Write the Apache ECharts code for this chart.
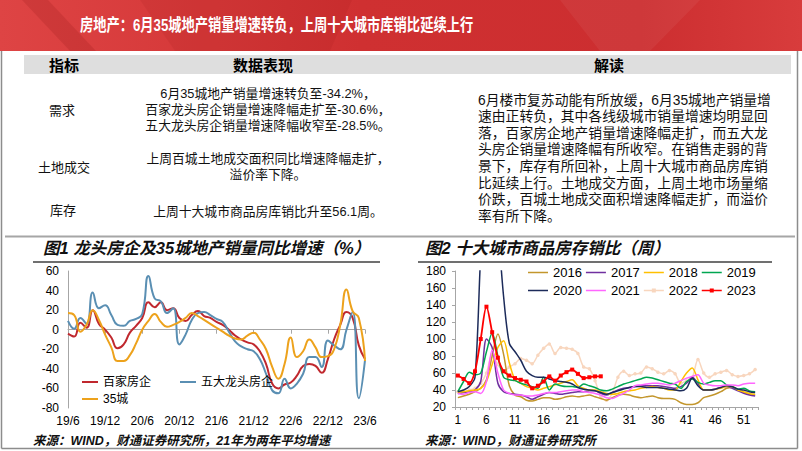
<!DOCTYPE html>
<html><head><meta charset="utf-8">
<script src="https://cdn.jsdelivr.net/npm/echarts@6/dist/echarts.min.js"></script>
<style>html,body{margin:0;padding:0;background:#fff;}#c{width:802px;height:451px;}</style>
</head><body><div id="c"></div>
<script>
// ---------- Chart 1 data (monthly, 19/6 .. 23/6) ----------
const months = ['19/6','19/7','19/8','19/9','19/10','19/11','19/12','20/1','20/2','20/3','20/4','20/5','20/6','20/7','20/8','20/9','20/10','20/11','20/12','21/1','21/2','21/3','21/4','21/5','21/6','21/7','21/8','21/9','21/10','21/11','21/12','22/1','22/2','22/3','22/4','22/5','22/6','22/7','22/8','22/9','22/10','22/11','22/12','23/1','23/2','23/3','23/4','23/5','23/6'];
const baijia = [-4,-7,7,2,20,6,0,-8,-19,-15,-3,4,12,28,23,28,20,22,12,9,15,19,14,12,8,5,0,-6,-10,-13,-15,-22,-35,-55,-60,-56,-54,-47,-37,-35,-37,-44,-30,-10,5,18,12,-16,-30];
const wuda = [9,1,12,6,38,22,25,15,5,4,9,11,16,55,32,29,17,22,-15,-5,10,17,18,15,11,8,-2,-12,-17,-20,-22,-30,-45,-62,-65,-50,-60,-55,-45,-28,-28,-38,-11,-16,-20,0,18,-70,-31];
const city35 = [17,15,-2,5,20,10,-5,-18,-32,-32,-26,-14,0,9,16,8,3,5,8,12,17,14,10,6,2,-2,-6,-9,-10,-6,-3,-10,-20,-38,-50,-35,-8,-28,-22,-10,-18,-28,-27,-20,5,41,19,12,-32];
const y1Ticks = {min:-80, max:60, step:20};

// ---------- Chart 2 data (weekly, 1 .. 53) ----------
const weeks = ['1','2','3','4','5','6','7','8','9','10','11','12','13','14','15','16','17','18','19','20','21','22','23','24','25','26','27','28','29','30','31','32','33','34','35','36','37','38','39','40','41','42','43','44','45','46','47','48','49','50','51','52','53'];
const y2016 = [31,33,35,38,42,52,80,106,82,45,34,32,28,27,29,31,31,29,30,32,33,32,33,34,32,30,28,31,34,35,34,32,31,32,33,31,30,30,29,25,23,23,25,31,33,35,38,42,43,40,37,35,34];
const y2017 = [36,37,38,40,50,100,90,48,38,36,35,34,32,29,32,35,37,36,35,36,37,38,38,39,39,36,34,37,40,42,43,44,45,45,45,45,44,43,42,44,48,55,48,40,40,41,43,44,42,39,36,34,33];
const y2018 = [37,38,39,40,42,50,70,90,98,72,52,48,44,42,40,42,44,46,48,50,52,45,42,40,40,38,36,35,36,38,39,40,42,43,44,43,42,40,40,50,60,66,52,40,40,41,42,44,44,40,38,36,35];
const y2019 = [38,50,61,58,60,85,107,80,55,52,51,48,46,44,42,55,40,47,45,44,44,43,47,45,43,40,39,41,44,47,49,51,53,55,54,52,50,48,47,42,50,53,49,47,49,51,51,46,44,41,42,39,38];
const y2020 = [38,40,44,55,200,300,280,230,150,95,85,75,62,57,55,55,53,51,50,49,47,43,41,40,39,37,35,37,39,41,43,44,44,43,43,43,42,41,40,39,42,54,45,40,40,41,43,45,44,41,40,38,37];
const y2021 = [36,35,37,38,36,50,87,60,40,36,34,34,33,33,34,36,37,37,38,39,40,40,38,37,36,34,31,30,33,36,40,45,46,47,48,48,47,46,48,51,54,56,58,48,46,45,45,46,46,45,47,48,48];
const y2022 = [38,38,40,42,48,60,82,70,62,67,71,77,75,71,81,89,94,83,90,89,88,83,67,65,51,32,28,36,55,62,57,59,60,67,65,61,59,63,59,48,51,55,76,60,55,59,61,63,58,56,57,59,64];
const y2023 = [57,53,48,62,100,138,108,78,62,57,54,52,50,42,45,50,56,51,57,61,64,59,54,55,56,56.1];
const y2Ticks = {min:20, max:180, step:20};

const LAT = '"Liberation Sans",Arial,sans-serif';
const MIX = '"Liberation Sans","Noto Sans CJK SC",sans-serif';

function T(x, y, text, font, align, fill, extra) {
  return Object.assign({type:'text', x:x, y:y, silent:true, z:10,
    style:{text:text, font:font, fill:fill||'#111', align:align||'left', verticalAlign:'middle',
           textAlign:align||'left', textVerticalAlign:'middle'}}, extra||{});
}
function L(x1,y1,x2,y2,color,w){ return {type:'line', silent:true, z:5, shape:{x1:x1,y1:y1,x2:x2,y2:y2}, style:{stroke:color, lineWidth:w}}; }

const bodyFont = '12.8px ' + MIX;
const rightLines = [
 '6月楼市复苏动能有所放缓，6月35城地产销量增',
 '速由正转负，其中各线级城市销量增速均明显回',
 '落，百家房企地产销量增速降幅走扩，而五大龙',
 '头房企销量增速降幅有所收窄。在销售走弱的背',
 '景下，库存有所回补，上周十大城市商品房库销',
 '比延续上行。土地成交方面，上周土地市场量缩',
 '价跌，百城土地成交面积增速降幅走扩，而溢价',
 '率有所下降。'];

const graphics = [
  {type:'rect', silent:true, z:1, shape:{x:0,y:0,width:802,height:51},
   style:{fill:{type:'linear',x:0,y:0,x2:1,y2:0,colorStops:[{offset:0,color:'#DE4444'},{offset:0.45,color:'#CF3031'},{offset:0.8,color:'#CC2E30'},{offset:1,color:'#D83C3C'}]}}},
  {type:'polygon', silent:true, z:2, shape:{points:[[22,0],[48,0],[96,51],[70,51]]}, style:{fill:'rgba(110,0,0,0.13)'}},
  {type:'polygon', silent:true, z:2, shape:{points:[[140,0],[352,0],[330,51],[175,51]]}, style:{fill:'rgba(110,0,0,0.07)'}},
  {type:'polygon', silent:true, z:2, shape:{points:[[560,0],[700,0],[650,51],[600,51]]}, style:{fill:'rgba(255,255,255,0.05)'}},
  T(80, 25, '房地产：6月35城地产销量增速转负，上周十大城市库销比延续上行', 'bold 17px ' + MIX, 'left', '#fff', {scaleX:0.78}),
  // frame
  L(1.5,51,1.5,448.5,'#8C8C8C',1.5), L(797.5,51,797.5,448.5,'#8C8C8C',1.5), L(1.5,448.5,797.5,448.5,'#8C8C8C',1.5),
  // table header
  {type:'rect', silent:true, z:3, shape:{x:24,y:55,width:767,height:19}, style:{fill:'#DEDEDE'}},
  T(64, 65, '指标', 'bold 15px ' + MIX, 'center', '#000'),
  T(263, 65, '数据表现', 'bold 15px ' + MIX, 'center', '#000'),
  T(609, 65, '解读', 'bold 15px ' + MIX, 'center', '#000'),
  T(62, 110, '需求', '13px ' + MIX, 'center'),
  T(64, 167, '土地成交', '13px ' + MIX, 'center'),
  T(63, 210, '库存', '13px ' + MIX, 'center'),
  T(268, 93, '6月35城地产销量增速转负至-34.2%，', bodyFont, 'center'),
  T(268, 109.5, '百家龙头房企销量增速降幅走扩至-30.6%，', bodyFont, 'center'),
  T(268, 125, '五大龙头房企销量增速降幅收窄至-28.5%。', bodyFont, 'center'),
  T(268, 158.5, '上周百城土地成交面积同比增速降幅走扩，', bodyFont, 'center'),
  T(268, 174, '溢价率下降。', bodyFont, 'center'),
  T(268, 211, '上周十大城市商品房库销比升至56.1周。', bodyFont, 'center'),
  // section divider
  L(5,236.5,795,236.5,'#A6A6A6',2),
  T(43, 248, '图1 龙头房企及35城地产销量同比增速（%）', 'italic bold 16.5px ' + MIX, 'left', '#111'),
  T(425, 248, '图2 十大城市商品房存销比（周）', 'italic bold 16.5px ' + MIX, 'left', '#111'),
  L(33,262,380,262,'#404040',1.5), L(418,262,772,262,'#404040',1.5),
  T(33, 440.5, '来源：WIND，财通证券研究所，21年为两年平均增速', 'italic bold 12.5px ' + MIX, 'left', '#111'),
  T(425, 440.5, '来源：WIND，财通证券研究所', 'italic bold 12.5px ' + MIX, 'left', '#111')
];
rightLines.forEach(function(s, i){ graphics.push(T(478, 100 + i*16.6, s, '13.8px ' + MIX, 'left')); });

const icon1 = 'path://M0,0L0.01,0ZM0,8L0.01,8ZM0,3H16V5H0Z';
const icon2 = 'path://M0,0L0.01,0ZM0,8L0.01,8ZM0,3.25H20V4.75H0Z';
const icon2m = 'path://M0,0L0.01,0ZM0,8L0.01,8ZM0,3.25H20V4.75H0ZM8,2H12V6H8Z';

const lab = {fontFamily:LAT, fontSize:12, color:'#000'};
const axisGrey = '#A6A6A6';

function s1(name, data, color) {
  return {name:name, type:'line', xAxisIndex:0, yAxisIndex:0, data:data, smooth:0.5, symbol:'none',
          lineStyle:{color:color, width:2}, itemStyle:{color:color}, z:3};
}
function s2(name, data, color, w, extra) {
  return Object.assign({name:name, type:'line', xAxisIndex:2, yAxisIndex:1, data:data, smooth:0.3, symbol:'none',
          lineStyle:{color:color, width:w||1.5}, itemStyle:{color:color}, z:3, clip:true}, extra||{});
}
const leg = {padding:0, selectedMode:false, itemWidth:20, itemHeight:8, itemGap:4,
             textStyle:{fontFamily:LAT, fontSize:13, color:'#000'}};

const option = {
  animation:false,
  backgroundColor:'#fff',
  textStyle:{fontFamily:MIX},
  graphic:{elements:graphics},
  grid:[
    {left:68, top:271, width:297, height:137, containLabel:false, outerBoundsMode:'none'},
    {left:455, top:271, width:303, height:136, containLabel:false, outerBoundsMode:'none'}
  ],
  xAxis:[
    {gridIndex:0, type:'category', data:months, boundaryGap:false, position:'bottom',
     axisLine:{show:false, onZero:false}, axisTick:{show:false},
     axisLabel:Object.assign({interval:5, margin:7}, lab), splitLine:{show:false}},
    {gridIndex:0, type:'category', data:months, boundaryGap:false, position:'bottom',
     axisLine:{show:true, onZero:true, lineStyle:{color:axisGrey, width:1}},
     axisTick:{show:true, interval:5, length:4, lineStyle:{color:axisGrey}},
     axisLabel:{show:false}, splitLine:{show:false}},
    {gridIndex:1, type:'category', data:weeks, boundaryGap:true, position:'bottom',
     axisLine:{show:true, onZero:false, lineStyle:{color:axisGrey, width:1}},
     axisTick:{show:true, interval:0, length:3, lineStyle:{color:axisGrey}},
     axisLabel:Object.assign({interval:4, margin:7}, lab), splitLine:{show:false}}
  ],
  yAxis:[
    {gridIndex:0, type:'value', min:y1Ticks.min, max:y1Ticks.max, interval:y1Ticks.step,
     axisLine:{show:true, onZero:false, lineStyle:{color:axisGrey}}, axisTick:{show:false},
     splitLine:{show:false}, axisLabel:Object.assign({margin:9}, lab)},
    {gridIndex:1, type:'value', min:y2Ticks.min, max:y2Ticks.max, interval:y2Ticks.step,
     axisLine:{show:true, onZero:false, lineStyle:{color:axisGrey}}, axisTick:{show:true, length:3, lineStyle:{color:axisGrey}},
     splitLine:{show:false}, axisLabel:Object.assign({margin:9}, lab)}
  ],
  legend:[
    {data:[{name:'百家房企', icon:icon1},{name:'五大龙头房企', icon:icon1}], left:82, top:376, padding:0, selectedMode:false,
     itemWidth:16, itemHeight:8, itemGap:29, textStyle:{fontFamily:MIX, fontSize:12, color:'#000'}},
    {data:[{name:'35城', icon:icon1}], left:82, top:393, padding:0, selectedMode:false,
     itemWidth:16, itemHeight:8, textStyle:{fontFamily:MIX, fontSize:12, color:'#000'}},
    Object.assign({data:[{name:'2016',icon:icon2},{name:'2017',icon:icon2},{name:'2018',icon:icon2},{name:'2019',icon:icon2}], left:528, top:266}, leg),
    Object.assign({data:[{name:'2020',icon:icon2},{name:'2021',icon:icon2},{name:'2022',icon:icon2m},{name:'2023',icon:icon2m}], left:528, top:284}, leg)
  ],
  series:[
    s1('百家房企', baijia, '#C0282E'),
    s1('五大龙头房企', wuda, '#5A8FB3'),
    s1('35城', city35, '#EDA21C'),
    s2('2022', y2022, '#F8D6BE', 1.5, {symbol:'circle', symbolSize:3.5, showSymbol:true, showAllSymbol:true, z:2}),
    s2('2016', y2016, '#C3962C'),
    s2('2017', y2017, '#7030A0'),
    s2('2018', y2018, '#FFC000'),
    s2('2019', y2019, '#00A651'),
    s2('2020', y2020, '#1C2B5A'),
    s2('2021', y2021, '#FF66FF'),
    s2('2023', y2023, '#FF0000', 1.8, {symbol:'rect', symbolSize:4, showSymbol:true, showAllSymbol:true, z:4})
  ]
};
const chart = echarts.init(document.getElementById('c'), null, {renderer:'svg', width:802, height:451});
chart.setOption(option);
</script></body></html>
